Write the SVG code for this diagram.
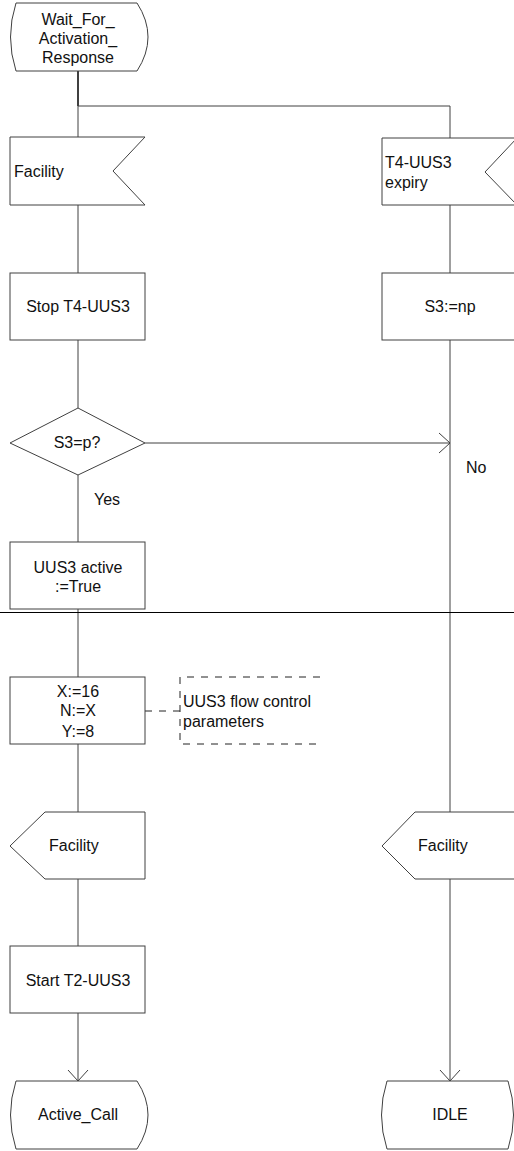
<svg xmlns="http://www.w3.org/2000/svg" width="514" height="1151" viewBox="0 0 514 1151">
<defs>
<style>
.s{fill:#fff;stroke:#404040;stroke-width:1}
.c{fill:none;stroke:#404040;stroke-width:1}
.t{font-family:"Liberation Sans",Arial,sans-serif;font-size:16px;fill:#111}
.m{text-anchor:middle}
.d{fill:none;stroke:#222;stroke-width:1;stroke-dasharray:7,7}
</style>
<marker id="arr" markerWidth="14" markerHeight="22" refX="12" refY="11" orient="auto" markerUnits="userSpaceOnUse">
<path d="M1,1 L12,11 L1,21" fill="none" stroke="#404040" stroke-width="1"/>
</marker>
</defs>
<rect width="514" height="1151" fill="#fff"/>
<g id="connectors">
<line x1="78" y1="71" x2="78" y2="106" stroke="#000" stroke-width="1.5"/>
<polyline class="c" points="78,106 450,106 450,138"/>
<line class="c" x1="78" y1="106" x2="78" y2="137"/>
<line class="c" x1="78" y1="205" x2="78" y2="273"/>
<line class="c" x1="450" y1="205" x2="450" y2="273"/>
<line class="c" x1="78" y1="340" x2="78" y2="408"/>
<line class="c" x1="450" y1="340" x2="450" y2="812"/>
<line class="c" x1="145" y1="443" x2="450" y2="443" marker-end="url(#arr)"/>
<line class="c" x1="78" y1="475" x2="78" y2="542"/>
<line class="c" x1="78" y1="609" x2="78" y2="677"/>
<line class="c" x1="78" y1="744" x2="78" y2="812"/>
<line class="c" x1="78" y1="879" x2="78" y2="946"/>
<line class="c" x1="78" y1="1013" x2="78" y2="1081" marker-end="url(#arr)"/>
<line class="c" x1="450" y1="879" x2="450" y2="1081" marker-end="url(#arr)"/>
<line class="d" x1="145" y1="711" x2="180" y2="711"/>
<line x1="0" y1="612.5" x2="514" y2="612.5" stroke="#000" stroke-width="1"/>
<text class="t" x="94" y="505">Yes</text>
<text class="t" x="466" y="473">No</text>
</g>
<g id="state_wait">
<path class="s" d="M16,3 H137 Q159,37 137,71 H16 Q5,37 16,3 Z"/>
<text class="t m" x="78" y="25">Wait_For_</text>
<text class="t m" x="78" y="44">Activation_</text>
<text class="t m" x="78" y="63">Response</text>
</g>
<g id="input_facility">
<polygon class="s" points="10,137 145,137 113,171 145,205 10,205"/>
<text class="t" x="14" y="177">Facility</text>
</g>
<g id="input_t4_expiry">
<polygon class="s" points="382,138 517,138 485,172 517,205 382,205"/>
<text class="t" x="385" y="168">T4-UUS3</text>
<text class="t" x="385" y="188">expiry</text>
</g>
<g id="task_stop_t4">
<rect class="s" x="10" y="273" width="135" height="67"/>
<text class="t m" x="78" y="312">Stop T4-UUS3</text>
</g>
<g id="task_s3_np">
<rect class="s" x="382" y="273" width="136" height="67"/>
<text class="t m" x="450" y="312">S3:=np</text>
</g>
<g id="decision_s3">
<polygon class="s" points="78,408 145,443 78,475 10,443"/>
<text class="t m" x="77" y="448">S3=p?</text>
</g>
<g id="task_uus3_active">
<rect class="s" x="10" y="542" width="135" height="67"/>
<text class="t m" x="78" y="573">UUS3 active</text>
<text class="t m" x="78" y="592">:=True</text>
</g>
<g id="task_flow_params">
<rect class="s" x="10" y="677" width="135" height="67"/>
<text class="t m" x="78" y="697">X:=16</text>
<text class="t m" x="78" y="716">N:=X</text>
<text class="t m" x="78" y="737">Y:=8</text>
</g>
<g id="comment_flow">
<polyline class="d" points="320,677 180,677 180,744 320,744"/>
<text class="t" x="183" y="707">UUS3 flow control</text>
<text class="t" x="183" y="727">parameters</text>
</g>
<g id="output_facility_left">
<polygon class="s" points="45,812 145,812 145,879 45,879 10,846"/>
<text class="t" x="49" y="851">Facility</text>
</g>
<g id="output_facility_right">
<polygon class="s" points="415,812 518,812 518,879 415,879 382,846"/>
<text class="t" x="418" y="851">Facility</text>
</g>
<g id="task_start_t2">
<rect class="s" x="10" y="946" width="135" height="67"/>
<text class="t m" x="78" y="986">Start T2-UUS3</text>
</g>
<g id="state_active_call">
<path class="s" d="M16,1081 H137 Q159,1115 137,1149 H16 Q5,1115 16,1081 Z"/>
<text class="t m" x="78" y="1120">Active_Call</text>
</g>
<g id="state_idle">
<path class="s" d="M387,1081 H508 Q519,1115 508,1149 H387 Q376,1115 387,1081 Z"/>
<text class="t m" x="450" y="1120">IDLE</text>
</g>
</svg>
